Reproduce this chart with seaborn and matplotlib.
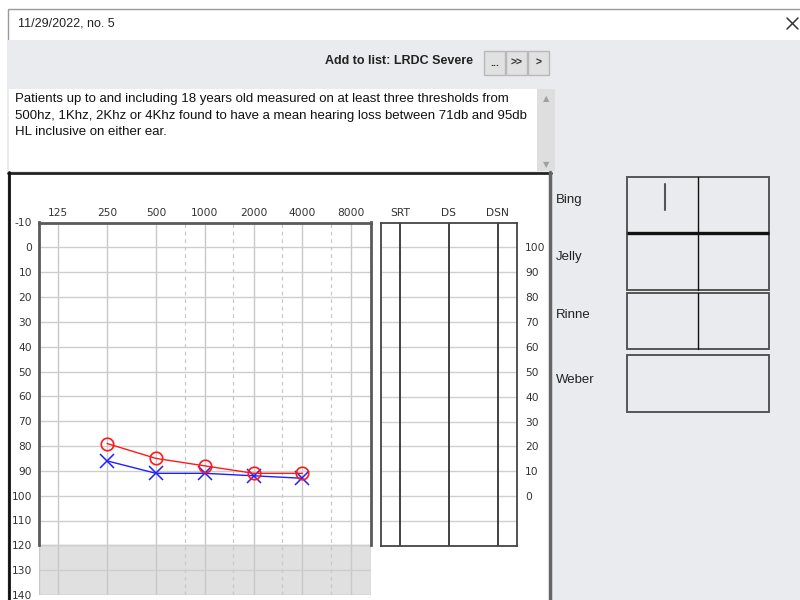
import numpy as np
import pandas as pd
import seaborn as sns
import matplotlib.pyplot as plt
from matplotlib.patches import Rectangle

# audiogram data (dB HL)
freqs = [250, 500, 1000, 2000, 4000]
right_db = [79, 85, 88, 91, 91]
left_db = [86, 91, 91, 92, 93]

freq_ticks = [125, 250, 500, 1000, 2000, 4000, 8000]
half_octaves = [750, 1500, 3000, 6000]
db_ticks = list(range(-10, 141, 10))

speech_cols = ['SRT', 'DS', 'DSN']
speech_ticks = list(range(0, 101, 10))
test_labels = ['Bing', 'Jelly', 'Rinne', 'Weber']

title_text = '11/29/2022, no. 5'
list_text = 'Add to list: LRDC Severe'
desc_lines = [
    'Patients up to and including 18 years old measured on at least three thresholds from',
    '500hz, 1Khz, 2Khz or 4Khz found to have a mean hearing loss between 71db and 95db',
    'HL inclusive on either ear.',
]

sns.set_style('white')
plt.rcParams['font.family'] = ['Liberation Sans', 'DejaVu Sans']
plt.rcParams['axes.unicode_minus'] = False

W, H = 800, 600
fig = plt.figure(figsize=(8, 6), dpi=100, facecolor='white')


def px_axes(x0, y0, x1, y1):
    return fig.add_axes([x0 / W, 1 - y1 / H, (x1 - x0) / W, (y1 - y0) / H])


# window chrome drawn in pixel coords
bg = fig.add_axes([0, 0, 1, 1])
bg.set_xlim(0, W)
bg.set_ylim(H, 0)
bg.axis('off')
GREY = '#e9ebee'

bg.add_patch(Rectangle((7.5, 8.5), 800, 600, fc='white', ec='#9a9a9a', lw=1))
bg.add_patch(Rectangle((8, 40), 800, 132, fc=GREY, ec='none'))
bg.add_patch(Rectangle((551, 172), 260, 430, fc=GREY, ec='none'))
bg.text(18, 24, title_text, fontsize=9, color='#222', va='center')
bg.plot([787, 798], [18, 29], color='#333', lw=1.1)
bg.plot([787, 798], [29, 18], color='#333', lw=1.1)

bg.text(473, 61, list_text, fontsize=9, fontweight='bold', color='#222',
        ha='right', va='center')
for (bx0, bx1), lab in zip([(484, 505), (506, 527), (528, 549)], ['...', '>>', '>']):
    bg.add_patch(Rectangle((bx0, 50.5), bx1 - bx0, 24, fc='#e1e1e1', ec='#b8b8b8', lw=1))
    bg.text((bx0 + bx1) / 2, 63, lab, fontsize=7.5, fontweight='bold', color='#333',
            ha='center', va='center')

# description box with scrollbar
bg.add_patch(Rectangle((9, 89), 528, 82, fc='white', ec='none'))
bg.add_patch(Rectangle((537, 89), 18, 82, fc='#dedede', ec='none'))
bg.text(546, 99, '▲', fontsize=6, color='#a0a0a0', ha='center', va='center',
        family='DejaVu Sans')
bg.text(546, 165, '▼', fontsize=6, color='#a0a0a0', ha='center', va='center',
        family='DejaVu Sans')
for i, line in enumerate(desc_lines):
    bg.text(15, 99 + i * 16.5, line, fontsize=9.5, color='#111', va='center')

# white chart panel
bg.add_patch(Rectangle((9, 172), 541, 430, fc='white', ec='none'))
bg.plot([8, 551], [172.5, 172.5], color='#222', lw=2)
bg.plot([8.5, 8.5], [172, 600], color='#111', lw=2)
bg.plot([550, 550], [172, 600], color='#666', lw=2.5)

# tuning fork tests panel
for lab, y in zip(test_labels, [200, 257, 315, 380]):
    bg.text(556, y, lab, fontsize=9.5, color='#222', va='center')
for y0, y1 in [(177, 233), (233, 290), (292.5, 349), (355, 412)]:
    bg.add_patch(Rectangle((627, y0), 142, y1 - y0, fc='none', ec='#555', lw=1.4))
bg.plot([627, 769], [233, 233], color='#111', lw=2.4, solid_capstyle='butt')
bg.plot([698, 698], [177, 290], color='#111', lw=1)
bg.plot([698, 698], [292.5, 349], color='#111', lw=1)
bg.plot([665, 665], [184, 210], color='#555', lw=1.5)

tick_font = dict(family='DejaVu Sans', size=7.7)

# audiogram
ax = px_axes(39, 222.5, 371, 595)
ax.patch.set_visible(False)
ax.set_xscale('log', base=2)
ax.set_xlim(125 * 2 ** -0.395, 125 * 2 ** 6.404)
ax.set_ylim(140, -10)
ax.axhspan(120, 140, fc='#e0e0e0', ec='#c8c8c8', lw=1, zorder=0)
for f in freq_ticks:
    ax.axvline(f, color='#c8c8c8', lw=1, zorder=1)
for f in half_octaves:
    ax.axvline(f, color='#c8c8c8', lw=0.9, ls=(0, (3, 3)), zorder=1)
for d in db_ticks[1:]:
    ax.axhline(d, color='#cdcdcd', lw=1, zorder=1)

sns.lineplot(x=freqs, y=left_db, ax=ax, color='#2020ff', lw=1, marker='x',
             markersize=10, markeredgewidth=1.1, markeredgecolor='#2020ff', zorder=3)
sns.lineplot(x=freqs, y=right_db, ax=ax, color='#ff1a1a', lw=1, marker='o',
             markersize=9, markerfacecolor='none', markeredgecolor='#ff1a1a',
             markeredgewidth=1.2, zorder=4)

ax.xaxis.tick_top()
ax.set_xticks(freq_ticks)
ax.set_xticklabels([str(f) for f in freq_ticks], fontdict=tick_font)
ax.minorticks_off()
ax.set_yticks(db_ticks)
ax.set_yticklabels([str(d) for d in db_ticks], fontdict=tick_font)
ax.tick_params(axis='both', length=0, labelcolor='#333')
ax.tick_params(axis='x', pad=3)
ax.tick_params(axis='y', pad=5)
ax.set_xlabel('')
ax.set_ylabel('')
for side in ['top', 'left', 'right']:
    ax.spines[side].set_color('#5a5a5a')
    ax.spines[side].set_linewidth(2)
ax.spines['left'].set_bounds(-10, 120)
ax.spines['right'].set_bounds(-10, 120)
ax.spines['bottom'].set_visible(False)

# speech audiometry
sp = px_axes(381, 222.5, 517, 546)
sp.patch.set_visible(False)
sp.set_xlim(0, 7)
sp.set_ylim(-20, 110)
for d in [-10] + speech_ticks:
    sp.axhline(d, color='#d0d0d0', lw=1, zorder=1)
col_pos = [1, 3.5, 6]
for c in col_pos:
    sp.axvline(c, color='#333', lw=1.3, zorder=2)
sp.xaxis.tick_top()
sp.set_xticks(col_pos)
sp.set_xticklabels(speech_cols, fontdict=tick_font)
sp.yaxis.tick_right()
sp.set_yticks(speech_ticks)
sp.set_yticklabels([str(d) for d in speech_ticks], fontdict=tick_font)
sp.tick_params(axis='both', length=0, labelcolor='#333')
sp.tick_params(axis='x', pad=3)
sp.tick_params(axis='y', pad=6)
for s in sp.spines.values():
    s.set_color('#444')
    s.set_linewidth(1.3)

fig.savefig('out.png', dpi=100, facecolor='white')
